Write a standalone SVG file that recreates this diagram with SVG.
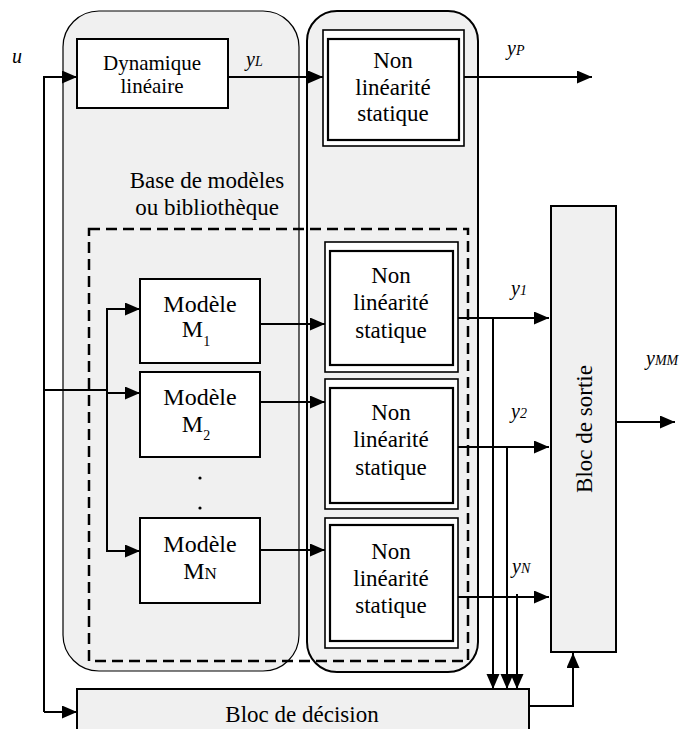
<svg xmlns="http://www.w3.org/2000/svg" width="683" height="729" viewBox="0 0 683 729">
<defs>
<marker id="ah" markerUnits="userSpaceOnUse" markerWidth="16" markerHeight="14" refX="15" refY="6.5" orient="auto">
<path d="M0,0 L15,6.5 L0,13 z" fill="#000"/>
</marker>
<rect id="nlOuter" width="133" height="130" fill="#fff" stroke="#000" stroke-width="1.6"/>
</defs>

<g id="group-models">
<rect x="63" y="11" width="236" height="660" rx="36" ry="36" fill="#f0f0f0" stroke="#000" stroke-width="1.2"/>
</g>
<g id="group-nonlin">
<rect x="307" y="11" width="171" height="661" rx="30" ry="30" fill="#f0f0f0" stroke="#000" stroke-width="2"/>
</g>
<g id="library">
<rect x="89" y="229" width="379" height="432" fill="none" stroke="#000" stroke-width="2.5" stroke-dasharray="11,6"/>
<text x="207" y="188" style="font-family:'Liberation Serif',serif;font-size:23px;text-anchor:middle">Base de modèles</text>
<text x="207" y="215" style="font-family:'Liberation Serif',serif;font-size:23px;text-anchor:middle">ou bibliothèque</text>
</g>

<g id="dyn-lin">
<rect x="77" y="39" width="151" height="69" fill="#fff" stroke="#000" stroke-width="2"/>
<text x="152" y="70" style="font-family:'Liberation Serif',serif;font-size:21px;text-anchor:middle">Dynamique</text>
<text x="152" y="93" style="font-family:'Liberation Serif',serif;font-size:21px;text-anchor:middle">linéaire</text>
</g>
<g id="nl-p">
<rect x="323" y="30" width="141" height="116" fill="#fff" stroke="#000" stroke-width="1.6"/>
<rect x="328" y="39" width="131" height="101" fill="none" stroke="#000" stroke-width="2.2"/>
<text x="393" y="68" style="font-family:'Liberation Serif',serif;font-size:23px;text-anchor:middle">Non</text>
<text x="393" y="95" style="font-family:'Liberation Serif',serif;font-size:23px;text-anchor:middle">linéarité</text>
<text x="393" y="121" style="font-family:'Liberation Serif',serif;font-size:23px;text-anchor:middle">statique</text>
</g>

<g id="model-1">
<rect x="140" y="279" width="120" height="84" fill="#fff" stroke="#000" stroke-width="2"/>
<text x="200" y="312" style="font-family:'Liberation Serif',serif;font-size:24px;text-anchor:middle">Modèle</text>
<text x="196" y="337" style="font-family:'Liberation Serif',serif;font-size:24px;text-anchor:middle">M<tspan style="font-size:14px" dy="9">1</tspan></text>
</g>
<g id="model-2">
<rect x="140" y="372" width="120" height="85" fill="#fff" stroke="#000" stroke-width="2"/>
<text x="200" y="405" style="font-family:'Liberation Serif',serif;font-size:24px;text-anchor:middle">Modèle</text>
<text x="196" y="432" style="font-family:'Liberation Serif',serif;font-size:24px;text-anchor:middle">M<tspan style="font-size:14px" dy="8">2</tspan></text>
</g>
<g id="dots">
<circle cx="200" cy="478" r="1.6" fill="#000"/>
<circle cx="200" cy="508" r="1.6" fill="#000"/>
</g>
<g id="model-n">
<rect x="140" y="518" width="120" height="85" fill="#fff" stroke="#000" stroke-width="2"/>
<text x="200" y="552" style="font-family:'Liberation Serif',serif;font-size:24px;text-anchor:middle">Modèle</text>
<text x="200" y="579" style="font-family:'Liberation Serif',serif;font-size:24px;text-anchor:middle">M<tspan style="font-size:17px">N</tspan></text>
</g>

<g id="nl-1">
<use href="#nlOuter" x="325" y="242"/>
<rect x="330" y="251" width="123" height="114" fill="none" stroke="#000" stroke-width="2.2"/>
<text x="391" y="283" style="font-family:'Liberation Serif',serif;font-size:23px;text-anchor:middle">Non</text>
<text x="391" y="310" style="font-family:'Liberation Serif',serif;font-size:23px;text-anchor:middle">linéarité</text>
<text x="391" y="338" style="font-family:'Liberation Serif',serif;font-size:23px;text-anchor:middle">statique</text>
</g>
<g id="nl-2">
<use href="#nlOuter" x="325" y="379"/>
<rect x="330" y="388" width="123" height="115" fill="none" stroke="#000" stroke-width="2.2"/>
<text x="391" y="420" style="font-family:'Liberation Serif',serif;font-size:23px;text-anchor:middle">Non</text>
<text x="391" y="447" style="font-family:'Liberation Serif',serif;font-size:23px;text-anchor:middle">linéarité</text>
<text x="391" y="475" style="font-family:'Liberation Serif',serif;font-size:23px;text-anchor:middle">statique</text>
</g>
<g id="nl-n">
<use href="#nlOuter" x="325" y="518"/>
<rect x="330" y="525" width="123" height="116" fill="none" stroke="#000" stroke-width="2.2"/>
<text x="391" y="559" style="font-family:'Liberation Serif',serif;font-size:23px;text-anchor:middle">Non</text>
<text x="391" y="586" style="font-family:'Liberation Serif',serif;font-size:23px;text-anchor:middle">linéarité</text>
<text x="391" y="613" style="font-family:'Liberation Serif',serif;font-size:23px;text-anchor:middle">statique</text>
</g>

<g id="bloc-sortie">
<rect x="551" y="206" width="65" height="446" fill="#f0f0f0" stroke="#000" stroke-width="2"/>
<text transform="translate(592,429) rotate(-90)" style="font-family:'Liberation Serif',serif;font-size:23px;text-anchor:middle">Bloc de sortie</text>
</g>
<g id="bloc-decision">
<rect x="77" y="689" width="452" height="60" fill="#f0f0f0" stroke="#000" stroke-width="2"/>
<text x="302" y="722" style="font-family:'Liberation Serif',serif;font-size:23px;text-anchor:middle">Bloc de décision</text>
</g>

<g id="connectors" fill="none" stroke="#000" stroke-width="2">
<path d="M44,712 L44,77 L77,77" marker-end="url(#ah)"/>
<path d="M44,712 L77,712" marker-end="url(#ah)"/>
<path d="M44,390 L107,390"/>
<path d="M107,393 L140,393" marker-end="url(#ah)"/>
<path d="M140,309 L107,309 L107,551 L140,551" marker-end="url(#ah)"/>
<path d="M107,309 L140,309" marker-end="url(#ah)"/>
<path d="M228,77 L323,77" marker-end="url(#ah)"/>
<path d="M464,77 L592,77" marker-end="url(#ah)"/>
<path d="M260,324 L325,324" marker-end="url(#ah)"/>
<path d="M260,402 L325,402" marker-end="url(#ah)"/>
<path d="M260,550 L325,550" marker-end="url(#ah)"/>
<path d="M458,318 L549,318" marker-end="url(#ah)"/>
<path d="M458,447 L549,447" marker-end="url(#ah)"/>
<path d="M458,597 L549,597" marker-end="url(#ah)"/>
<path d="M493,318 L493,689" marker-end="url(#ah)"/>
<path d="M507,447 L507,689" marker-end="url(#ah)"/>
<path d="M517,594 L517,689" marker-end="url(#ah)"/>
<path d="M529,706 L573,706 L573,653" marker-end="url(#ah)"/>
<path d="M616,422 L675,422" marker-end="url(#ah)"/>
</g>

<g id="labels">
<text x="12" y="63" style="font-family:'Liberation Serif',serif;font-size:20px;font-style:italic">u</text>
<text x="246" y="66" style="font-family:'Liberation Serif',serif;font-size:20px;font-style:italic">y<tspan style="font-size:14px">L</tspan></text>
<text x="507" y="55" style="font-family:'Liberation Serif',serif;font-size:20px;font-style:italic">y<tspan style="font-size:14px">P</tspan></text>
<text x="511" y="295" style="font-family:'Liberation Serif',serif;font-size:20px;font-style:italic">y<tspan style="font-size:14px">1</tspan></text>
<text x="511" y="418" style="font-family:'Liberation Serif',serif;font-size:20px;font-style:italic">y<tspan style="font-size:14px">2</tspan></text>
<text x="512" y="573" style="font-family:'Liberation Serif',serif;font-size:20px;font-style:italic">y<tspan style="font-size:14px">N</tspan></text>
<text x="646" y="365" style="font-family:'Liberation Serif',serif;font-size:20px;font-style:italic">y<tspan style="font-size:14px">MM</tspan></text>
</g>
</svg>
